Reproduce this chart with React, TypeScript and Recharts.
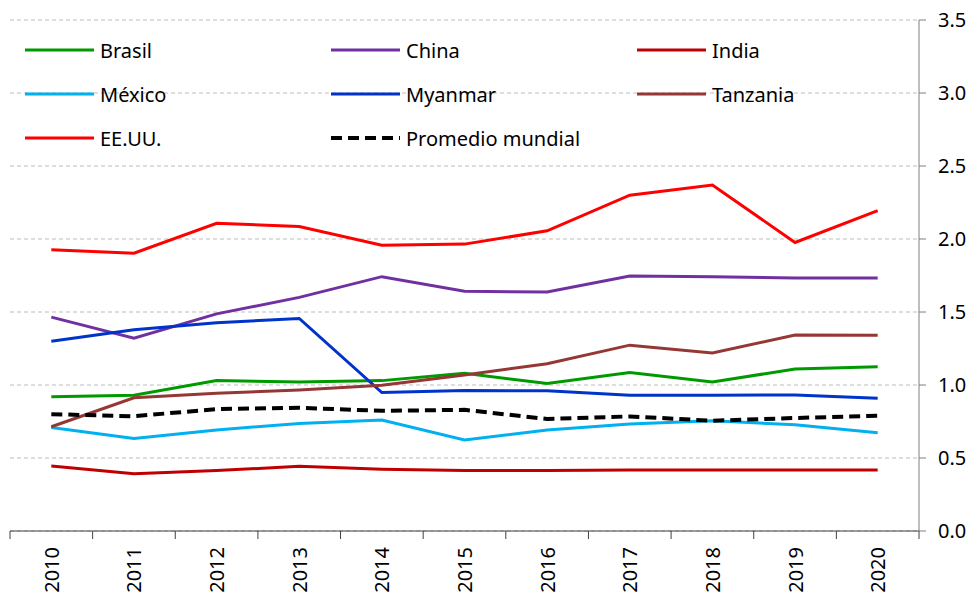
import React from 'react';
import { LineChart, Line, XAxis, YAxis, CartesianGrid } from 'recharts';

const years = ['2010', '2011', '2012', '2013', '2014', '2015', '2016', '2017', '2018', '2019', '2020'];
const brasil = [0.92, 0.93, 1.03, 1.02, 1.03, 1.08, 1.01, 1.085, 1.02, 1.11, 1.125];
const china = [1.465, 1.32, 1.487, 1.6, 1.742, 1.642, 1.637, 1.746, 1.742, 1.733, 1.733];
const india = [0.446, 0.392, 0.414, 0.443, 0.423, 0.414, 0.415, 0.417, 0.418, 0.418, 0.418];
const mexico = [0.709, 0.634, 0.692, 0.737, 0.76, 0.623, 0.692, 0.733, 0.755, 0.728, 0.673];
const myanmar = [1.3, 1.378, 1.426, 1.456, 0.948, 0.962, 0.96, 0.93, 0.93, 0.932, 0.91];
const tanzania = [0.714, 0.912, 0.944, 0.966, 0.998, 1.069, 1.146, 1.273, 1.219, 1.342, 1.34];
const eeuu = [1.926, 1.903, 2.108, 2.085, 1.958, 1.965, 2.056, 2.3, 2.37, 1.976, 2.194];
const promedio = [0.8, 0.786, 0.835, 0.844, 0.823, 0.83, 0.767, 0.785, 0.755, 0.774, 0.789];
const yTicks = [0, 0.5, 1, 1.5, 2, 2.5, 3, 3.5];

const series = [
  { key: 'Brasil', values: brasil, color: '#009A00' },
  { key: 'China', values: china, color: '#7030A0' },
  { key: 'India', values: india, color: '#C00000' },
  { key: 'México', values: mexico, color: '#00B0F0' },
  { key: 'Myanmar', values: myanmar, color: '#0033CC' },
  { key: 'Tanzania', values: tanzania, color: '#953735' },
  { key: 'EE.UU.', values: eeuu, color: '#FF0000' },
  { key: 'Promedio mundial', values: promedio, color: '#000000', dashed: true },
];

const data = years.map((year, i) => {
  const row: Record<string, string | number> = { year };
  series.forEach((s) => {
    row[s.key] = s.values[i];
  });
  return row;
});

const FONT = '"Noto Sans", sans-serif';

// category labels rotated, tick marks at the band edges (Excel style)
const YearTick = (props: any) => {
  const { x, y, payload, width, visibleTicksCount, index } = props;
  const half = width / visibleTicksCount / 2;
  return (
    <g>
      <line x1={x - half} y1={y} x2={x - half} y2={y + 8} stroke="#404040" />
      {index === visibleTicksCount - 1 && (
        <line x1={x + half} y1={y} x2={x + half} y2={y + 8} stroke="#404040" />
      )}
      <text
        x={x}
        y={y + 16}
        transform={`rotate(-90, ${x}, ${y + 16})`}
        textAnchor="end"
        dominantBaseline="central"
        fontSize={20}
        fontFamily={FONT}
        fill="#000"
      >
        {payload.value}
      </text>
    </g>
  );
};

// legend drawn as an overlay, 3 columns like the original
const LegendBox = () => (
  <div
    style={{
      position: 'absolute',
      left: 25,
      top: 28,
      display: 'grid',
      gridTemplateColumns: '306px 306px 306px',
      pointerEvents: 'none',
    }}
  >
    {series.map((s) => (
      <div key={s.key} style={{ display: 'flex', alignItems: 'center', height: 44 }}>
        <svg width={75} height={10}>
          <line
            x1={0}
            y1={5}
            x2={69}
            y2={5}
            stroke={s.color}
            strokeWidth={s.dashed ? 4 : 3}
            strokeDasharray={s.dashed ? '11 6' : undefined}
          />
        </svg>
        <span style={{ fontFamily: FONT, fontSize: 20, color: '#000' }}>{s.key}</span>
      </div>
    ))}
  </div>
);

export default function App() {
  return (
    <div style={{ position: 'absolute', left: 0, top: 0, width: 976, height: 594, background: '#fff' }}>
      <LineChart width={976} height={594} data={data} margin={{ top: 20, right: 0, bottom: 0, left: 10 }}>
        <CartesianGrid vertical={false} stroke="#BDBDBD" strokeDasharray="4 3" />
        <XAxis
          dataKey="year"
          scale="band"
          height={63}
          axisLine={{ stroke: '#404040' }}
          tickLine={false}
          tickSize={0}
          tickMargin={0}
          interval={0}
          tick={<YearTick />}
        />
        <YAxis
          orientation="right"
          width={57}
          domain={[0, 3.5]}
          ticks={yTicks}
          tickFormatter={(v: number) => v.toFixed(1)}
          axisLine={{ stroke: '#7F7F7F' }}
          tickLine={{ stroke: '#7F7F7F' }}
          tickSize={7}
          tickMargin={12}
          tick={{ fontSize: 20, fontFamily: FONT, fill: '#000' }}
        />
        {series.map((s) => (
          <Line
            key={s.key}
            dataKey={s.key}
            stroke={s.color}
            strokeWidth={s.dashed ? 4 : 3}
            strokeDasharray={s.dashed ? '11 6' : undefined}
            dot={false}
            activeDot={false}
            isAnimationActive={false}
          />
        ))}
      </LineChart>
      <LegendBox />
    </div>
  );
}
